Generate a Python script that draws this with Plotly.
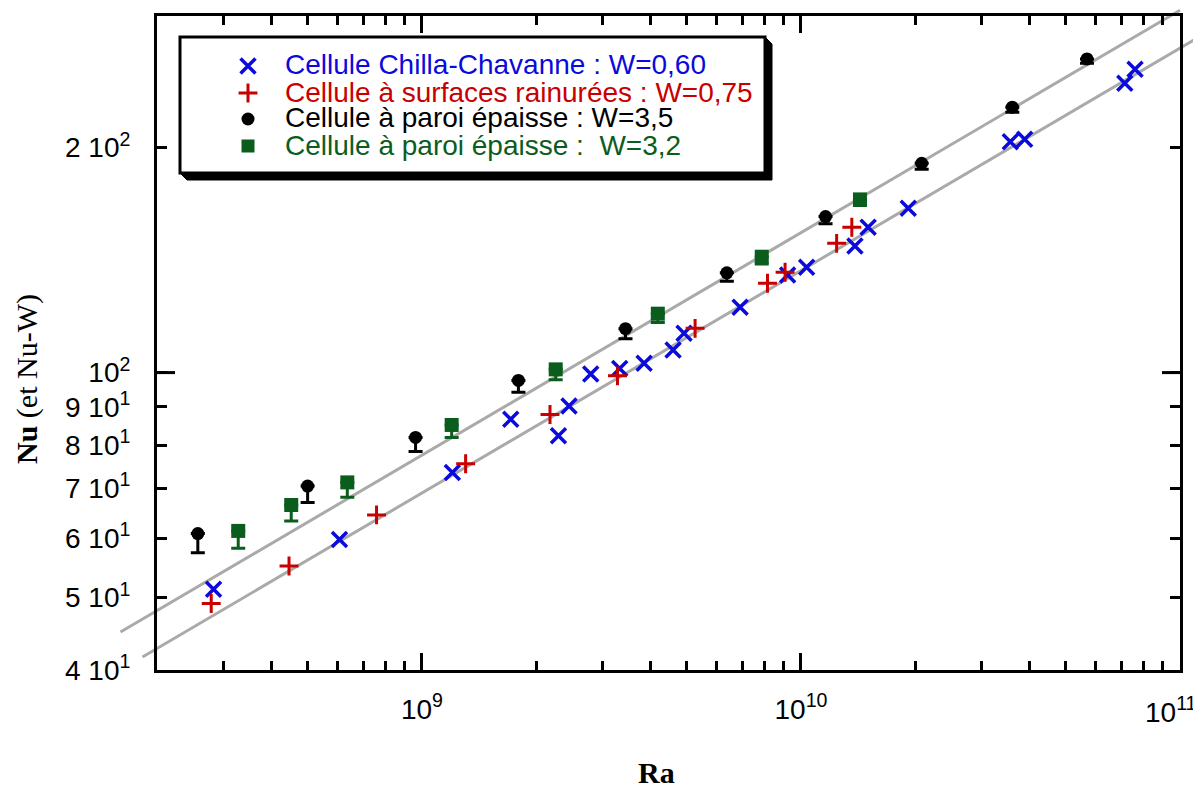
import numpy as np
import plotly.graph_objects as go

# ---------------- data ----------------
ra_cc = [2.82e8, 6.06e8, 1.203e9, 1.715e9, 2.292e9, 2.444e9, 2.788e9, 3.325e9, 3.856e9,
         4.598e9, 4.915e9, 6.91e9, 9.22e9, 1.035e10, 1.388e10, 1.504e10, 1.919e10,
         3.567e10, 3.892e10, 7.15e10, 7.61e10]
nu_cc = [51.3, 59.8, 73.5, 86.6, 82.3, 90.2, 99.6, 101.3, 102.9,
         107.2, 112.9, 122.3, 135.1, 138.3, 147.7, 156.5, 165.9,
         203.6, 205.2, 243.9, 254.6]

ra_rough = [2.78e8, 4.46e8, 7.59e8, 1.304e9, 2.177e9, 3.28e9, 5.256e9, 8.16e9, 9.08e9,
            1.242e10, 1.362e10]
nu_rough = [49.1, 55.1, 64.5, 75.5, 87.9, 99.0, 114.6, 131.7, 136.2, 148.9, 156.5]

ra_thick35 = [2.563e8, 4.994e8, 9.62e8, 1.797e9, 3.444e9, 6.374e9, 1.161e10, 2.082e10,
              3.611e10, 5.684e10]
nu_thick35 = [60.9, 70.5, 81.9, 97.6, 114.5, 136.0, 161.7, 190.6, 226.5, 262.8]

ra_thick32 = [3.276e8, 4.52e8, 6.355e8, 1.198e9, 2.254e9, 4.191e9, 7.88e9, 1.431e10]
nu_thick32 = [61.4, 66.5, 71.3, 85.1, 101.0, 119.9, 142.9, 170.5]

W_thick35 = 3.5
W_thick32 = 3.2

series_names = [
    "Cellule Chilla-Chavanne : W=0,60",
    "Cellule à surfaces rainurées : W=0,75",
    "Cellule à paroi épaisse : W=3,5",
    "Cellule à paroi épaisse :  W=3,2",
]

# power-law fits  Nu = A * Ra^b
fit_exponent = 0.2976
fit_prefactors = [0.1626, 0.1447]
fit_ra_start = [1.602e8, 1.831e8]
fit_ra_end = [1.0e11, 1.1365e11]

x_tickvals = [1e9, 1e10, 1e11]
x_ticktext = ["10<sup>9</sup>", "10<sup>10</sup>", ""]
x_last_label = "10<sup>11</sup>"   # drawn separately so it stays inside the page
x_minor = [3e8, 4e8, 5e8, 6e8, 7e8, 8e8, 9e8,
           2e9, 3e9, 4e9, 5e9, 6e9, 7e9, 8e9, 9e9,
           2e10, 3e10, 4e10, 5e10, 6e10, 7e10, 8e10, 9e10]
y_tickvals = [40, 50, 60, 70, 80, 90, 100, 200]
y_ticktext = ["4 10<sup>1</sup>", "5 10<sup>1</sup>", "6 10<sup>1</sup>", "7 10<sup>1</sup>",
              "8 10<sup>1</sup>", "9 10<sup>1</sup>", "10<sup>2</sup>", "2 10<sup>2</sup>"]

# ---------------- styling ----------------
BLUE = "#0A0ADC"
RED = "#C80000"
BLACK = "#000000"
GREEN = "#0B5D1E"
GREY = "#AAAAAA"
SANS = "Liberation Sans, Arial, sans-serif"
SERIF = "Liberation Serif, Times New Roman, serif"

# page geometry (the html body adds an 8px offset)
OFF = 8
PAGE_W, PAGE_H = 1201, 791
P_LEFT, P_RIGHT, P_TOP, P_BOTTOM = 157, 1180, 16, 670   # plot frame on the page
W, H = PAGE_W - OFF, PAGE_H - OFF
ML, MT = P_LEFT - OFF, P_TOP - OFF
MR, MB = PAGE_W - P_RIGHT, PAGE_H - P_BOTTOM
PW, PH = P_RIGHT - P_LEFT, P_BOTTOM - P_TOP
X_RANGE = [np.log10(2e8), 11.0]
Y_RANGE = [np.log10(40), np.log10(300)]


def px_x(px):
    return (px - P_LEFT) / PW


def px_y(py):
    return (P_BOTTOM - py) / PH


def data_to_paper(ra, nu):
    return ((np.log10(ra) - X_RANGE[0]) / (X_RANGE[1] - X_RANGE[0]),
            (np.log10(nu) - Y_RANGE[0]) / (Y_RANGE[1] - Y_RANGE[0]))


fig = go.Figure()

fig.add_trace(go.Scatter(
    x=ra_cc, y=nu_cc, mode="markers", name=series_names[0], showlegend=False,
    marker=dict(symbol="x-thin", size=15, color=BLUE, line=dict(width=3.5, color=BLUE)),
    cliponaxis=False))
fig.add_trace(go.Scatter(
    x=ra_rough, y=nu_rough, mode="markers", name=series_names[1], showlegend=False,
    marker=dict(symbol="cross-thin", size=13.5, color=RED, line=dict(width=3, color=RED)),
    cliponaxis=False))
fig.add_trace(go.Scatter(
    x=ra_thick35, y=nu_thick35, mode="markers", name=series_names[2], showlegend=False,
    marker=dict(symbol="circle", size=13, color=BLACK, line=dict(width=0)),
    error_y=dict(type="data", symmetric=False, array=[0] * len(nu_thick35),
                 arrayminus=[W_thick35] * len(nu_thick35), color=BLACK, thickness=3, width=7),
    cliponaxis=False))
fig.add_trace(go.Scatter(
    x=ra_thick32, y=nu_thick32, mode="markers", name=series_names[3], showlegend=False,
    marker=dict(symbol="square", size=14, color=GREEN, line=dict(width=0)),
    error_y=dict(type="data", symmetric=False, array=[0] * len(nu_thick32),
                 arrayminus=[W_thick32] * len(nu_thick32), color=GREEN, thickness=3, width=7),
    cliponaxis=False))

# legend symbols on a pixel-like overlay axis
leg_x = 248
leg_rows = [66, 93, 119, 146]
leg_styles = [
    dict(symbol="x-thin", size=15, color=BLUE, line=dict(width=3.5, color=BLUE)),
    dict(symbol="cross-thin", size=13.5, color=RED, line=dict(width=3, color=RED)),
    dict(symbol="circle", size=13, color=BLACK, line=dict(width=0)),
    dict(symbol="square", size=13, color=GREEN, line=dict(width=0)),
]
for row, st in zip(leg_rows, leg_styles):
    fig.add_trace(go.Scatter(x=[leg_x], y=[row], mode="markers", marker=st,
                             xaxis="x2", yaxis="y2", showlegend=False, hoverinfo="skip"))

shapes = []
# fit lines (extend beyond frame, so drawn in paper coordinates)
for A, r0, r1 in zip(fit_prefactors, fit_ra_start, fit_ra_end):
    x0, y0 = data_to_paper(r0, A * r0 ** fit_exponent)
    x1, y1 = data_to_paper(r1, A * r1 ** fit_exponent)
    shapes.append(dict(type="line", xref="paper", yref="paper", x0=x0, y0=y0, x1=x1, y1=y1,
                       line=dict(color=GREY, width=3), layer="below"))

# longer major tick at 10^2 on both sides
for xa, xb in [(0, 18 / PW), (1 - 18 / PW, 1)]:
    shapes.append(dict(type="line", xref="paper", yref="y", x0=xa, x1=xb, y0=100, y1=100,
                       line=dict(color=BLACK, width=3), layer="above"))

# legend box with shadow
bl, bt, br, bb, sh = 180, 37, 765, 173, 7
path = (f"M {px_x(bl)},{px_y(bb)} L {px_x(bl + sh)},{px_y(bb + sh)} "
        f"L {px_x(br + sh)},{px_y(bb + sh)} L {px_x(br + sh)},{px_y(bt + sh)} "
        f"L {px_x(br)},{px_y(bt)} Z")
shapes.append(dict(type="path", xref="paper", yref="paper", path=path,
                   fillcolor=BLACK, line=dict(color=BLACK, width=1), layer="below"))
shapes.append(dict(type="rect", xref="paper", yref="paper",
                   x0=px_x(bl), x1=px_x(br), y0=px_y(bb), y1=px_y(bt),
                   fillcolor="white", line=dict(color=BLACK, width=3), layer="below"))

annotations = []
leg_colors = [BLUE, RED, BLACK, GREEN]
for name, row, col in zip(series_names, leg_rows, leg_colors):
    annotations.append(dict(xref="paper", yref="paper", x=px_x(283), y=px_y(row - 1),
                            xanchor="left", yanchor="middle", showarrow=False,
                            text=name, font=dict(family=SANS, size=28, color=col)))
annotations.append(dict(xref="paper", yref="paper", x=px_x(1199), y=px_y(710),
                        xanchor="right", yanchor="middle", showarrow=False,
                        text=x_last_label, font=dict(family=SANS, size=28, color=BLACK)))
annotations.append(dict(xref="paper", yref="paper", x=px_x(656), y=px_y(772),
                        xanchor="center", yanchor="middle", showarrow=False,
                        text="<b>Ra</b>", font=dict(family=SERIF, size=30, color=BLACK)))
annotations.append(dict(xref="paper", yref="paper", x=px_x(27), y=px_y(379),
                        xanchor="center", yanchor="middle", showarrow=False, textangle=-90,
                        text="<b>Nu</b> (et Nu-W)", font=dict(family=SERIF, size=30, color=BLACK)))

fig.update_layout(
    width=W, height=H,
    margin=dict(l=ML, r=MR, t=MT, b=MB, pad=0),
    paper_bgcolor="white", plot_bgcolor="rgba(0,0,0,0)",
    showlegend=False,
    shapes=shapes, annotations=annotations,
    xaxis=dict(type="log", range=X_RANGE, showline=True, linewidth=3, linecolor=BLACK,
               mirror="ticks", ticks="inside", ticklen=17, tickwidth=3, tickcolor=BLACK,
               tickmode="array", tickvals=x_tickvals, ticktext=x_ticktext,
               tickfont=dict(family=SANS, size=28, color=BLACK), ticklabelstandoff=12,
               showgrid=False, zeroline=False, automargin=False,
               minor=dict(ticks="inside", ticklen=9, tickwidth=3, tickcolor=BLACK,
                          tickmode="array", tickvals=x_minor, showgrid=False)),
    yaxis=dict(type="log", range=Y_RANGE, showline=True, linewidth=3, linecolor=BLACK,
               mirror="ticks", ticks="inside", ticklen=10, tickwidth=3, tickcolor=BLACK,
               tickmode="array", tickvals=y_tickvals, ticktext=y_ticktext,
               tickfont=dict(family=SANS, size=28, color=BLACK), ticklabelstandoff=18,
               showgrid=False, zeroline=False, automargin=False),
    xaxis2=dict(overlaying="x", range=[P_LEFT, P_RIGHT], visible=False, fixedrange=True),
    yaxis2=dict(overlaying="y", range=[P_BOTTOM, P_TOP], visible=False, fixedrange=True),
)

fig.write_html("out.html")
